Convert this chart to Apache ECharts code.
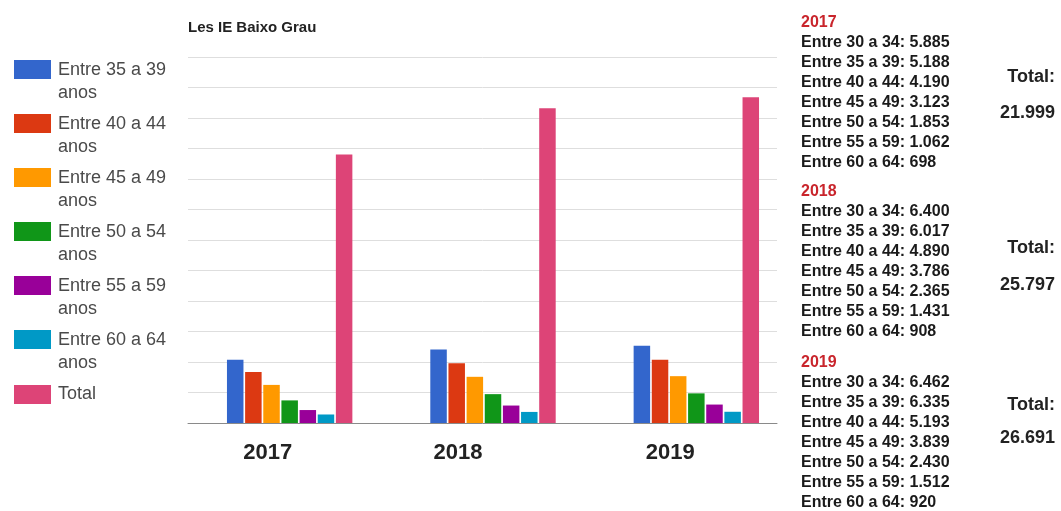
<!DOCTYPE html>
<html>
<head>
<meta charset="utf-8">
<script src="https://cdn.jsdelivr.net/npm/echarts@6/dist/echarts.min.js"></script>
<style>
html,body{margin:0;padding:0;background:#fff;}
#chart{width:1061px;height:511px;}
</style>
</head>
<body>
<div id="chart"></div>
<script>
// ---- data ----
const years = ['2017', '2018', '2019'];
const groupNames = ['Entre 35 a 39', 'Entre 40 a 44', 'Entre 45 a 49', 'Entre 50 a 54', 'Entre 55 a 59', 'Entre 60 a 64'];
const g30_34 = [5885, 6400, 6462];
const g35_39 = [5188, 6017, 6335];
const g40_44 = [4190, 4890, 5193];
const g45_49 = [3123, 3786, 3839];
const g50_54 = [1853, 2365, 2430];
const g55_59 = [1062, 1431, 1512];
const g60_64 = [698, 908, 920];
const totals = [21999, 25797, 26691];
const yMin = 0, yMax = 30000, yInterval = 2500;
const chartTitle = 'Les IE Baixo Grau';

const colors = ['#3366cc', '#dc3912', '#ff9900', '#109618', '#990099', '#0099c6', '#dd4477'];
const FONT = '"Liberation Sans", Arial, sans-serif';

function fmt(n) { return String(n).replace(/\B(?=(\d{3})+(?!\d))/g, '.'); }

const seriesValues = [g35_39, g40_44, g45_49, g50_54, g55_59, g60_64, totals];
const seriesNames = groupNames.concat(['Total']);

const series = seriesNames.map((name, i) => ({
  name: name,
  type: 'bar',
  xAxisIndex: 1,
  yAxisIndex: 1,
  data: seriesValues[i],
  barWidth: 16.5,
  barGap: '10%',
  itemStyle: { color: colors[i] },
  emphasis: { disabled: true }
}));

const iconTwoLine = 'path://M0,0H37V19H0Z M0,44L0.01,44Z';
const iconOneLine = 'path://M0,0H37V19H0Z';
const legendData = seriesNames.map(n => ({ name: n, icon: n === 'Total' ? iconOneLine : iconTwoLine }));

// right-side text blocks
const listRows = [
  ['Entre 30 a 34', g30_34], ['Entre 35 a 39', g35_39], ['Entre 40 a 44', g40_44],
  ['Entre 45 a 49', g45_49], ['Entre 50 a 54', g50_54], ['Entre 55 a 59', g55_59], ['Entre 60 a 64', g60_64]
];
const blockTops = [12.5, 181.5, 353];
const totalLabelY = [76.7, 248, 405];
const totalValueY = [113.3, 285, 438.3];

const graphics = [{
  type: 'text', left: 188, top: 20,
  style: { text: chartTitle, font: 'bold 15px ' + FONT, fill: '#222' }
}];
years.forEach((y, k) => {
  let txt = '{y|' + y + '}';
  listRows.forEach(r => { txt += '\n{l|' + r[0] + ': ' + fmt(r[1][k]) + '}'; });
  graphics.push({
    type: 'text', x: 801, y: blockTops[k],
    style: {
      text: txt, verticalAlign: 'top', align: 'left',
      rich: {
        y: { fontFamily: FONT, fontWeight: 'bold', fontSize: 16, fill: '#c9252c', lineHeight: 20 },
        l: { fontFamily: FONT, fontWeight: 'bold', fontSize: 16, fill: '#1a1a1a', lineHeight: 20 }
      }
    }
  });
  graphics.push({
    type: 'text', x: 1055, y: totalLabelY[k],
    style: { text: 'Total:', align: 'right', verticalAlign: 'middle', font: 'bold 18px ' + FONT, fill: '#222' }
  });
  graphics.push({
    type: 'text', x: 1055, y: totalValueY[k],
    style: { text: fmt(totals[k]), align: 'right', verticalAlign: 'middle', font: 'bold 18px ' + FONT, fill: '#222' }
  });
});

const labelShift = [22, 35, 26];
const rich = {};
labelShift.forEach((s, i) => {
  rich['s' + i] = { fontFamily: FONT, fontWeight: 'bold', fontSize: 22, color: '#222', padding: [0, 2 * s, 0, 0] };
});

const option = {
  animation: false,
  backgroundColor: '#fff',
  legend: {
    orient: 'vertical', left: 14, top: 59, padding: 0,
    itemWidth: 37, itemHeight: 44, itemGap: 8,
    selectedMode: false,
    data: legendData,
    formatter: n => n === 'Total' ? n : n + '\nanos',
    textStyle: { fontFamily: FONT, fontSize: 18, color: '#4a4a4a', lineHeight: 23, padding: [0, 0, 0, 2] }
  },
  grid: [
    { left: 188, top: 57, width: 589, height: 366 },
    { left: 188, top: 57, width: 610, height: 366 }
  ],
  xAxis: [
    { gridIndex: 0, type: 'value', min: 0, max: 1,
      axisLine: { show: true, onZero: false, lineStyle: { color: '#8a8a8a', width: 1 } },
      axisTick: { show: false }, axisLabel: { show: false }, splitLine: { show: false } },
    { gridIndex: 1, type: 'category', data: years,
      axisLine: { show: false }, axisTick: { show: false }, splitLine: { show: false },
      axisLabel: { margin: 19, formatter: (v, i) => '{s' + i + '|' + v + '}', rich: rich } }
  ],
  yAxis: [
    { gridIndex: 0, type: 'value', min: yMin, max: yMax, interval: yInterval,
      axisLine: { show: false }, axisTick: { show: false }, axisLabel: { show: false },
      splitLine: { show: true, lineStyle: { color: '#dedede', width: 1 } } },
    { gridIndex: 1, type: 'value', min: yMin, max: yMax, interval: yInterval,
      axisLine: { show: false }, axisTick: { show: false }, axisLabel: { show: false },
      splitLine: { show: false } }
  ],
  graphic: graphics,
  series: series
};

const chart = echarts.init(document.getElementById('chart'), null, { renderer: 'canvas' });
chart.setOption(option);
</script>
</body>
</html>
